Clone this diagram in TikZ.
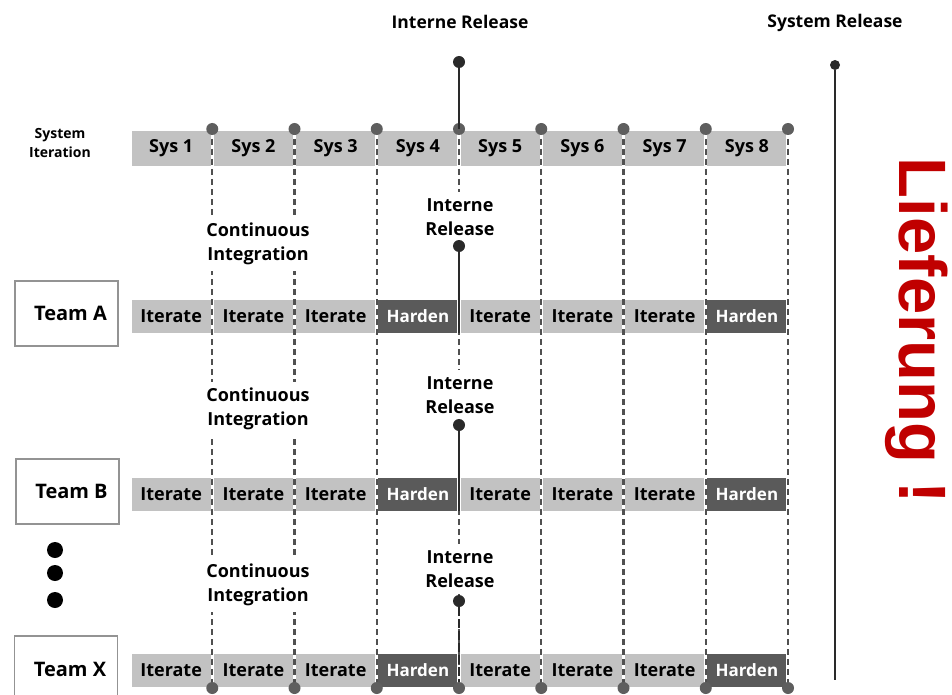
\documentclass[tikz,border=0pt]{standalone}
\usepackage{fontspec}
\setmainfont{Open Sans}
\newfontfamily\lieffont{Liberation Sans}
\definecolor{barlight}{HTML}{C2C2C2}
\definecolor{bardark}{HTML}{5A5A5A}
\definecolor{dotgray}{HTML}{5E5E5E}
\definecolor{gridgray}{HTML}{505050}
\definecolor{darkline}{HTML}{2A2A2A}
\definecolor{liefred}{HTML}{C00000}
\newcommand{\fs}[1]{\bfseries\fontsize{#1}{#1}\selectfont}
\newcommand{\fsl}[2]{\bfseries\fontsize{#1}{#2}\selectfont}
\begin{document}
\begin{tikzpicture}[x=1pt,y=-1pt,
  cell/.style={rectangle, minimum width=79pt, minimum height=33pt, inner sep=0pt,
    fill=barlight, text=black, font=\fs{18}},
  syscell/.style={cell, minimum height=35pt},
  hardcell/.style={cell, fill=bardark, text=white, font=\fs{17}},
  bardot/.style={circle, fill=dotgray, minimum size=12pt, inner sep=0pt},
  reldot/.style={circle, fill=darkline, minimum size=12pt, inner sep=0pt},
  griddash/.style={draw=gridgray, line width=2.2pt, dash pattern=on 6pt off 4pt},
  relline/.style={draw=darkline, line width=2.8pt},
  note/.style={fill=white, align=center, inner xsep=2pt, inner ysep=6pt,
    font=\fsl{18}{24}},
  teambox/.style={rectangle, draw=gray!85, line width=1.4pt, fill=white,
    minimum width=103pt, minimum height=65pt, font=\fs{20}},
  ellip/.style={circle, fill=black, minimum size=16pt, inner sep=0pt}]
\useasboundingbox (0,0) rectangle (952,695);
\clip (0,0) rectangle (952,695);

% system iteration bar
\node[font=\fsl{14}{19}, align=center, text=black] (syslbl) at (60,143) {System\\Iteration};
\foreach \i in {1,...,8}
  \node[syscell] (s\i) at ({130+82.25*(\i-0.5)},148.5) {Sys \i};

% team iteration bars
\foreach \r/\y in {a/316.5,b/494.5,x/670.5}{
  \foreach \i in {1,...,8}{
    \ifnum\i=4 \def\st{hardcell}\def\tx{Harden}%
    \else\ifnum\i=8 \def\st{hardcell}\def\tx{Harden}%
    \else \def\st{cell}\def\tx{Iterate}\fi\fi
    \node[\st] (\r\i) at ({130+82.25*(\i-0.5)},\y) {\tx};
  }
}

% column markers
\foreach \i in {1,...,8}{
  \coordinate (t\i) at ({130+82.25*\i},129);
  \coordinate (u\i) at ({130+82.25*\i},688);
  \draw[griddash] (t\i) -- (u\i);
}

% labels between the bars
\node[note] (ci1) at (258,244) {Continuous\\Integration};
\node[note] (ci2) at (258,409) {Continuous\\Integration};
\node[note] (ci3) at (258,585) {Continuous\\Integration};
\node[note] (ir1) at (460,217) {Interne\\Release};
\node[note] (ir2) at (460,395) {Interne\\Release};
\node[note] (ir3) at (460,569) {Interne\\Release};

% internal releases per team
\node[reldot] (r1) at (459,246) {};
\node[reldot] (r2) at (459,425) {};
\node[reldot] (r3) at (459,601) {};
\draw[relline] (r1) -- (r1 |- a4.south);
\draw[relline] (r2) -- (r2 |- b4.south);
\draw[relline, dash pattern=on 9pt off 3pt] (r3) -- (u4);

% dots on the bars
\foreach \i in {1,...,8}{
  \node[bardot] at (t\i) {};
  \node[bardot] at (u\i) {};
}

% top level releases
\node[font=\fs{17.5}] (irtop) at (460,22) {Interne Release};
\node[reldot] (rt) at (459,62) {};
\draw[relline] (rt) -- (t4);
\node[font=\fs{17.5}] (srtop) at (835,23) {System Release};
\node[reldot, minimum size=10pt] (sr) at (835,65) {};
\coordinate (srend) at (835,680);
\draw[relline] (sr) -- (srend);

% teams
\node[teambox] (ta) at (66.5,313.5) {\hspace*{8pt}Team A};
\node[teambox] (tb) at (67.5,491.5) {\hspace*{8pt}Team B};
\node[teambox, minimum height=66pt] (tx) at (66,669) {\hspace*{8pt}Team X};
\node[ellip] (e1) at (55,550) {};
\node[ellip] (e2) at (55,573) {};
\node[ellip] (e3) at (55,600) {};

% delivery
\node[rotate=-90, anchor=base, text=liefred, font=\lieffont\fs{67}] (lief) at (899,331) {Lieferung !};
\end{tikzpicture}
\end{document}
